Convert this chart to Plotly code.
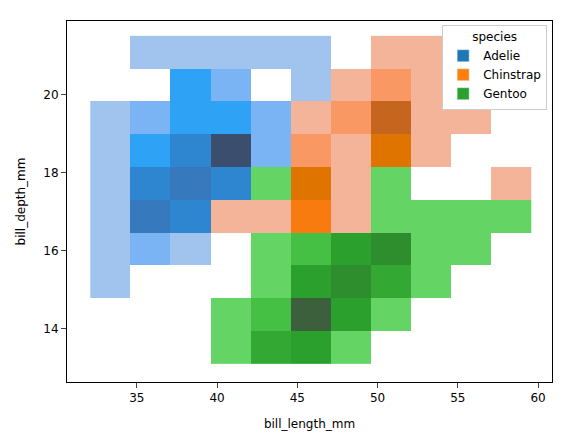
import numpy as np
import plotly.graph_objects as go

# bin edges (bill_length 32.1..59.6 in 11 bins, bill_depth 13.1..21.5 in 10 bins)
x_edges = np.linspace(32.1, 59.6, 12)
y_edges = np.linspace(13.1, 21.5, 11)
xc = (x_edges[:-1] + x_edges[1:]) / 2
yc = (y_edges[:-1] + y_edges[1:]) / 2

# count levels per cell, rows bottom -> top, columns left -> right
adelie = [
    [0, 0, 0, 0, 0, 0, 0, 0, 0, 0, 0],
    [0, 0, 0, 0, 0, 0, 0, 0, 0, 0, 0],
    [1, 0, 0, 0, 0, 0, 0, 0, 0, 0, 0],
    [1, 2, 1, 0, 0, 0, 0, 0, 0, 0, 0],
    [1, 5, 4, 0, 0, 0, 0, 0, 0, 0, 0],
    [1, 4, 5, 4, 0, 0, 0, 0, 0, 0, 0],
    [1, 3, 4, 6, 2, 0, 0, 0, 0, 0, 0],
    [1, 2, 3, 3, 2, 0, 0, 0, 0, 0, 0],
    [0, 0, 3, 2, 0, 1, 0, 0, 0, 0, 0],
    [0, 1, 1, 1, 1, 1, 0, 0, 0, 0, 0],
]
chinstrap = [
    [0, 0, 0, 0, 0, 0, 0, 0, 0, 0, 0],
    [0, 0, 0, 0, 0, 0, 0, 0, 0, 0, 0],
    [0, 0, 0, 0, 0, 0, 0, 0, 0, 0, 0],
    [0, 0, 0, 0, 0, 0, 0, 0, 0, 0, 0],
    [0, 0, 0, 1, 1, 4, 1, 0, 0, 0, 0],
    [0, 0, 0, 0, 0, 5, 1, 0, 0, 0, 1],
    [0, 0, 0, 0, 0, 2, 1, 5, 1, 0, 0],
    [0, 0, 0, 0, 0, 1, 2, 6, 1, 1, 0],
    [0, 0, 0, 0, 0, 0, 1, 2, 1, 0, 0],
    [0, 0, 0, 0, 0, 0, 0, 1, 1, 0, 0],
]
gentoo = [
    [0, 0, 0, 1, 3, 4, 1, 0, 0, 0, 0],
    [0, 0, 0, 1, 2, 6, 4, 1, 0, 0, 0],
    [0, 0, 0, 0, 1, 4, 5, 3, 1, 0, 0],
    [0, 0, 0, 0, 1, 2, 4, 5, 1, 1, 0],
    [0, 0, 0, 0, 0, 0, 0, 1, 1, 1, 1],
    [0, 0, 0, 0, 1, 0, 0, 1, 0, 0, 0],
    [0, 0, 0, 0, 0, 0, 0, 0, 0, 0, 0],
    [0, 0, 0, 0, 0, 0, 0, 0, 0, 0, 0],
    [0, 0, 0, 0, 0, 0, 0, 0, 0, 0, 0],
    [0, 0, 0, 0, 0, 0, 0, 0, 0, 0, 0],
]

palettes = {
    "Adelie": ["#a1c4ef", "#7ab4f5", "#2ea3f6", "#2f86d0", "#3679bd", "#3b4e6e"],
    "Chinstrap": ["#f4b49a", "#fa9863", "#fb8a3a", "#f77b0f", "#e07400", "#c6661e"],
    "Gentoo": ["#64d465", "#45c045", "#33a833", "#2ca02c", "#2e8e2e", "#3c5f3c"],
}
legend_colors = {"Adelie": "#1f77b4", "Chinstrap": "#ff7f0e", "Gentoo": "#2ca02c"}


def scale(cols):
    n = len(cols)
    out = []
    for i, c in enumerate(cols):
        out.append([i / n, c])
        out.append([(i + 1) / n, c])
    return out


fig = go.Figure()
for name, z in [("Adelie", adelie), ("Chinstrap", chinstrap), ("Gentoo", gentoo)]:
    arr = np.array(z, dtype=float)
    arr[arr == 0] = np.nan
    fig.add_trace(go.Heatmap(
        x=xc, y=yc, z=arr, zmin=0.5, zmax=6.5,
        colorscale=scale(palettes[name]), showscale=False, hoverinfo="skip",
    ))

for name, c in legend_colors.items():
    fig.add_trace(go.Bar(x=[None], y=[None], name=name, marker_color=c))

axis = dict(showline=True, linecolor="black", linewidth=1, mirror=True,
            ticks="outside", showgrid=False, zeroline=False,
            tickfont=dict(size=12, color="black"), title_font=dict(size=12, color="black"))
fig.update_xaxes(axis, range=[30.65, 60.87], tickvals=[35, 40, 45, 50, 55, 60],
                 title_text="bill_length_mm")
fig.update_yaxes(axis, range=[12.64, 21.88], tickvals=[14, 16, 18, 20],
                 title_text="bill_depth_mm")
fig.update_layout(
    width=563, height=433, plot_bgcolor="white", paper_bgcolor="white",
    margin=dict(l=58, r=19, t=12, b=53),
    font=dict(family="DejaVu Sans", size=12, color="black"),
    legend=dict(title=dict(text="species", side="top center", font=dict(size=12)),
                x=0.99, y=0.99, xanchor="right", yanchor="top", bgcolor="white",
                bordercolor="#cccccc", borderwidth=1, font=dict(size=12)),
)
fig.write_html("out.html")
